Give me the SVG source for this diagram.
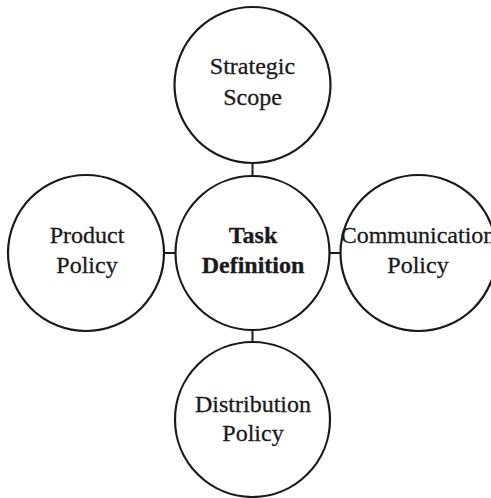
<svg xmlns="http://www.w3.org/2000/svg" width="491" height="498" viewBox="0 0 491 498">
<style>
.c{fill:#fff;stroke:#1a1a1a;stroke-width:2.2}
.t{font-family:"Liberation Serif","Times New Roman",serif;font-size:24px;fill:#1a1a1a;stroke:#1a1a1a;stroke-width:0.3;text-anchor:middle}
.b{font-weight:bold}
.l{stroke:#1a1a1a;stroke-width:2;fill:none}
</style>
<rect width="491" height="498" fill="#fff"/>
<g id="connectors">
<line class="l" x1="252.5" y1="163" x2="252.5" y2="176"/>
<line class="l" x1="164" y1="253" x2="176" y2="253"/>
<line class="l" x1="329" y1="253" x2="341" y2="253"/>
<line class="l" x1="252.5" y1="330" x2="252.5" y2="342"/>
</g>
<g id="strategic">
<circle class="c" cx="252.5" cy="85" r="78"/>
<text class="t" x="252.5" y="74">Strategic</text>
<text class="t" x="252.5" y="105">Scope</text>
</g>
<g id="product">
<circle class="c" cx="86" cy="253" r="78"/>
<text class="t" x="87" y="243">Product</text>
<text class="t" x="87" y="273">Policy</text>
</g>
<g id="task">
<circle class="c" cx="252.5" cy="253" r="77"/>
<text class="t b" x="253" y="243">Task</text>
<text class="t b" x="253" y="273">Definition</text>
</g>
<g id="communication">
<circle class="c" cx="418.5" cy="253" r="78"/>
<text class="t" x="418" y="243">Communication</text>
<text class="t" x="418" y="273">Policy</text>
</g>
<g id="distribution">
<circle class="c" cx="252.5" cy="419.5" r="77.5"/>
<text class="t" x="253" y="412">Distribution</text>
<text class="t" x="253" y="441">Policy</text>
</g>
</svg>
